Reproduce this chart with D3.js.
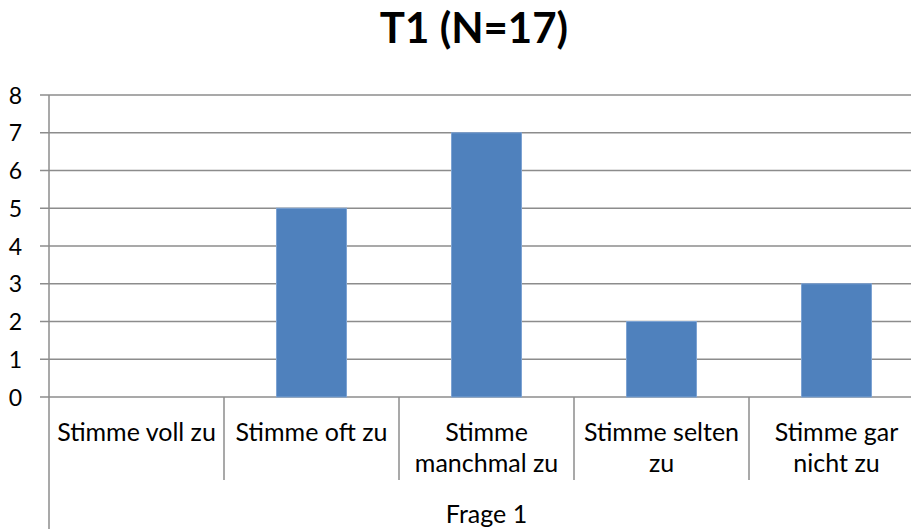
<!DOCTYPE html>
<html lang="de">
<head>
<meta charset="UTF-8">
<title>T1 (N=17)</title>
<script src="https://d3js.org/d3.v7.min.js"></script>
<style>
  body { margin: 0; background: #fff; }
  svg { display: block; font-family: Lato, "Open Sans", sans-serif; }
</style>
</head>
<body>
<svg id="chart" width="911" height="529"></svg>
<script>
// Daten
const categories = ["Stimme voll zu", "Stimme oft zu", "Stimme manchmal zu", "Stimme selten zu", "Stimme gar nicht zu"];
const labelLines = [["Stimme voll zu"], ["Stimme oft zu"], ["Stimme", "manchmal zu"], ["Stimme selten", "zu"], ["Stimme gar", "nicht zu"]];
const values = [0, 5, 7, 2, 3];
const yTicks = [0, 1, 2, 3, 4, 5, 6, 7, 8];
const groupLabel = "Frage 1";
const title = "T1 (N=17)";

const svg = d3.select("#chart");
const plotLeft = 49, plotRight = 924, plotTop = 95, plotBottom = 397;

const x = d3.scaleBand().domain(categories).range([plotLeft, plotRight]).padding(0);
const y = d3.scaleLinear().domain([0, 8]).range([plotBottom, plotTop]);
const gridColor = "#8c8c8c";

// Gitterlinien
svg.append("g").selectAll("line").data(yTicks).join("line")
  .attr("x1", plotLeft - 9).attr("x2", plotRight)
  .attr("y1", d => y(d)).attr("y2", d => y(d))
  .attr("stroke", gridColor).attr("stroke-width", 1.5);

// y-Beschriftung
svg.append("g").selectAll("text").data(yTicks).join("text")
  .attr("x", 22).attr("y", d => y(d) + 8.5)
  .attr("text-anchor", "end")
  .attr("font-size", 23).attr("fill", "#000")
  .text(d => d);

// Balken
const bw = x.bandwidth() * 0.4;
svg.append("g").selectAll("rect").data(values).join("rect")
  .attr("x", (d, i) => x(categories[i]) + (x.bandwidth() - bw) / 2)
  .attr("y", d => y(d))
  .attr("width", bw)
  .attr("height", d => y(0) - y(d))
  .attr("fill", "#4f81bd")
  .attr("stroke", "#7da3d3").attr("stroke-width", 1);

// Achse links
svg.append("line")
  .attr("x1", plotLeft).attr("x2", plotLeft).attr("y1", plotTop).attr("y2", 529)
  .attr("stroke", gridColor).attr("stroke-width", 1.5);

// Trennlinien zwischen Kategorien
svg.append("g").selectAll("line").data(categories.slice(1)).join("line")
  .attr("x1", d => x(d)).attr("x2", d => x(d))
  .attr("y1", plotBottom).attr("y2", 480)
  .attr("stroke", gridColor).attr("stroke-width", 1.5);

// Kategorie-Beschriftung
const lab = svg.append("g").selectAll("text").data(categories).join("text")
  .attr("text-anchor", "middle")
  .attr("font-size", 25).attr("fill", "#000");
lab.each(function(d, i) {
  d3.select(this).selectAll("tspan").data(labelLines[i]).join("tspan")
    .attr("x", x(d) + x.bandwidth() / 2)
    .attr("y", (t, j) => 441 + j * 31)
    .text(t => t);
});

svg.append("text")
  .attr("x", (plotLeft + plotRight) / 2).attr("y", 523)
  .attr("text-anchor", "middle")
  .attr("font-size", 25).attr("fill", "#000")
  .text(groupLabel);

// Titel
svg.append("text")
  .attr("x", 474).attr("y", 43)
  .attr("text-anchor", "middle")
  .attr("font-size", 42).attr("font-weight", "bold").attr("fill", "#000")
  .text(title);
</script>
</body>
</html>
